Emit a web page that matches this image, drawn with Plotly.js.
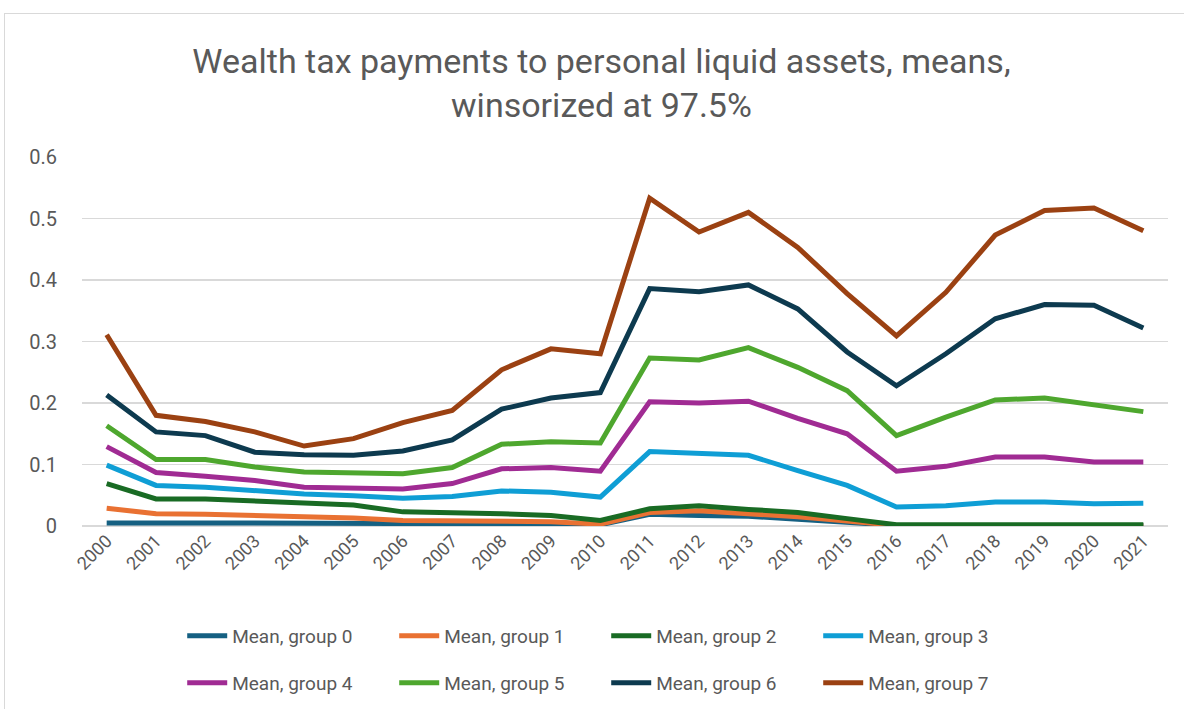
<!DOCTYPE html>
<html>
<head>
<meta charset="utf-8">
<script src="https://cdn.plot.ly/plotly-3.0.1.min.js"></script>
<style>
html,body{margin:0;padding:0;background:#fff;}
#frame{position:absolute;left:4px;top:13px;width:1190px;height:720px;border:1px solid #d9d9d9;box-sizing:border-box;}
#chart{position:absolute;left:0;top:0;width:1184px;height:709px;}
</style>
</head>
<body>
<div id="frame"></div>
<div id="chart"></div>
<script>
const years = ['2000','2001','2002','2003','2004','2005','2006','2007','2008','2009','2010','2011','2012','2013','2014','2015','2016','2017','2018','2019','2020','2021'];
const seriesNames = ['Mean, group 0','Mean, group 1','Mean, group 2','Mean, group 3','Mean, group 4','Mean, group 5','Mean, group 6','Mean, group 7'];
const group0 = [0.005,0.004,0.005,0.005,0.005,0.004,0.003,0.003,0.003,0.003,0.002,0.019,0.017,0.016,0.011,0.007,0.001,0.001,0.001,0.001,0.001,0.001];
const group1 = [0.029,0.020,0.019,0.017,0.016,0.013,0.009,0.009,0.008,0.007,0.003,0.022,0.025,0.021,0.015,0.008,0.001,0.001,0.000,0.000,0.000,0.000];
const group2 = [0.069,0.044,0.044,0.040,0.037,0.034,0.023,0.022,0.020,0.017,0.009,0.028,0.033,0.027,0.022,0.012,0.002,0.002,0.002,0.002,0.002,0.002];
const group3 = [0.099,0.066,0.063,0.057,0.052,0.049,0.045,0.048,0.057,0.055,0.047,0.121,0.119,0.115,0.090,0.066,0.031,0.033,0.039,0.039,0.036,0.037];
const group4 = [0.129,0.087,0.081,0.074,0.063,0.061,0.060,0.069,0.093,0.095,0.089,0.202,0.200,0.203,0.175,0.150,0.089,0.097,0.112,0.112,0.104,0.104];
const group5 = [0.163,0.108,0.108,0.096,0.088,0.086,0.085,0.095,0.133,0.137,0.135,0.273,0.270,0.290,0.258,0.220,0.147,0.177,0.205,0.208,0.198,0.186];
const group6 = [0.213,0.153,0.147,0.120,0.116,0.115,0.122,0.140,0.190,0.208,0.217,0.386,0.381,0.392,0.353,0.283,0.228,0.280,0.337,0.360,0.359,0.322];
const group7 = [0.311,0.180,0.170,0.153,0.130,0.142,0.168,0.188,0.254,0.288,0.280,0.533,0.478,0.510,0.453,0.378,0.309,0.380,0.473,0.513,0.517,0.480];
const allSeries = [group0,group1,group2,group3,group4,group5,group6,group7];
const colors = ['#156082','#E97132','#196B24','#0F9ED5','#A02B93','#4EA72E','#0D3A4F','#9B4112'];

const FONT = '"Liberation Sans Narrow", "Arial Narrow", Roboto, sans-serif';
const traces = allSeries.map((vals, i) => ({
  type: 'scatter', mode: 'lines', x: years, y: vals, name: seriesNames[i],
  line: {color: colors[i], width: 5, shape: 'linear'},
  legend: i < 4 ? 'legend' : 'legend2'
}));

const legendCommon = {
  orientation: 'h', xref: 'container', yref: 'container', xanchor: 'center', yanchor: 'middle',
  font: {family: FONT, size: 19, color: '#595959'}, bgcolor: 'rgba(0,0,0,0)',
  entrywidth: 157, itemwidth: 40, tracegroupgap: 0
};

const layout = {
  width: 1184, height: 709,
  margin: {l: 82, r: 16, t: 157, b: 183},
  paper_bgcolor: 'rgba(0,0,0,0)', plot_bgcolor: 'rgba(0,0,0,0)',
  title: {
    text: 'Wealth tax payments to personal liquid assets, means,<br>winsorized at 97.5%',
    font: {family: FONT, size: 34, color: '#595959'},
    xref: 'container', yref: 'container', x: 0.508, y: 1 - 73/709, xanchor: 'center', yanchor: 'middle'
  },
  xaxis: {
    type: 'category', range: [-0.5, 21.5], showgrid: false, zeroline: false,
    showline: false, ticks: '', tickangle: -45,
    tickfont: {family: FONT, size: 18, color: '#595959'}
  },
  yaxis: {
    range: [0, 0.6], dtick: 0.1, tick0: 0, showgrid: true, gridcolor: '#d9d9d9', gridwidth: 1.5,
    zeroline: true, zerolinecolor: '#d9d9d9', zerolinewidth: 1.5, showline: false,
    ticks: 'outside', ticklen: 20, tickcolor: 'rgba(0,0,0,0)',
    tickfont: {family: FONT, size: 20, color: '#595959'}
  },
  showlegend: true,
  legend: Object.assign({}, legendCommon, {x: 0.512, y: 1 - 636/709}),
  legend2: Object.assign({}, legendCommon, {x: 0.512, y: 1 - 683/709})
};

Plotly.newPlot('chart', traces, layout, {displayModeBar: false, staticPlot: true});
</script>
</body>
</html>
